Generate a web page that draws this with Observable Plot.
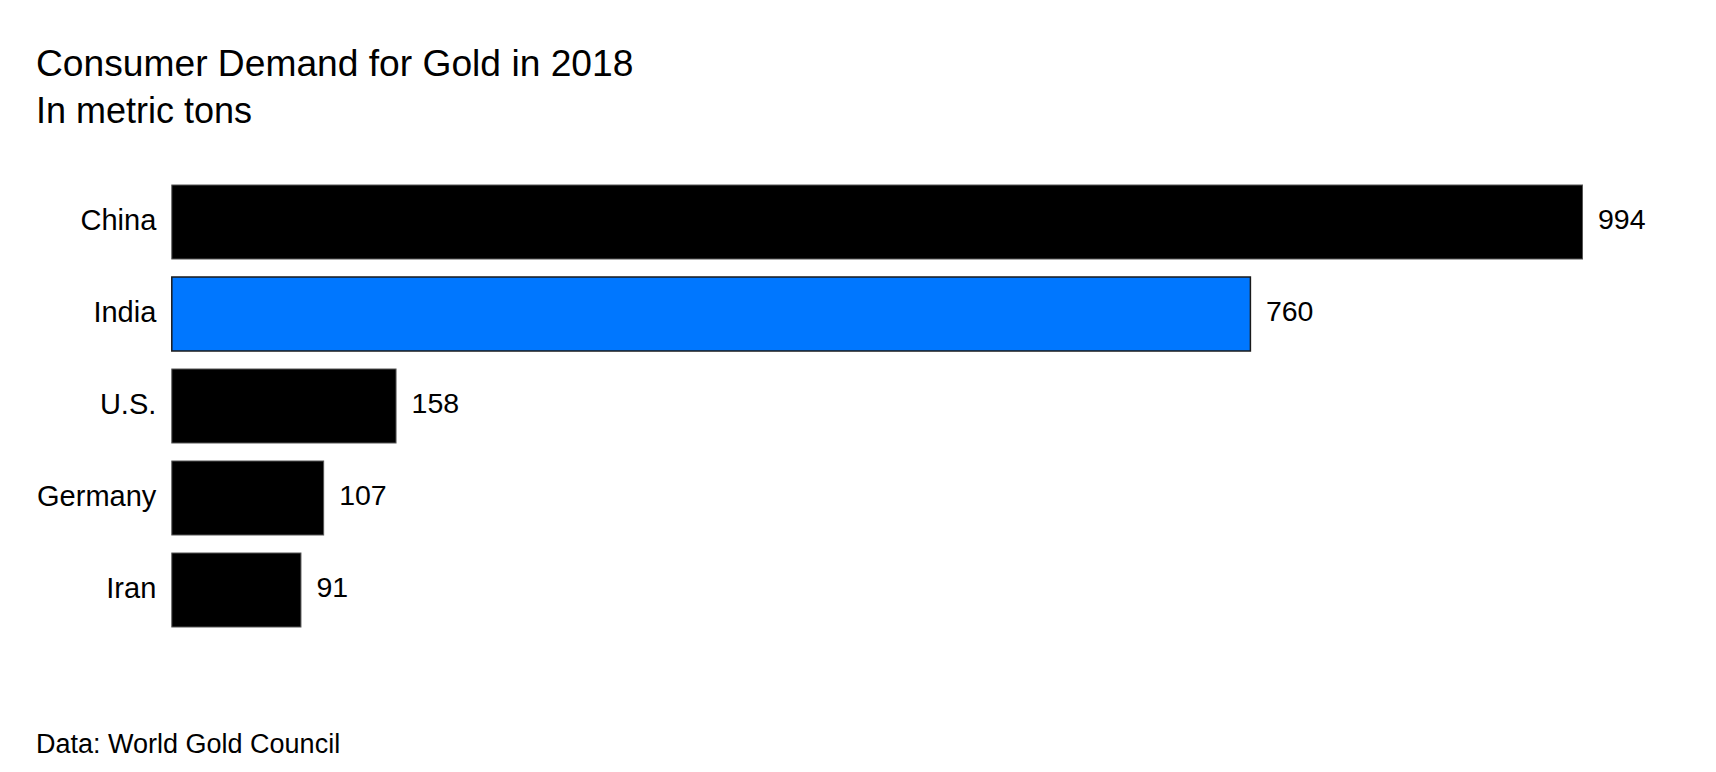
<!DOCTYPE html>
<html>
<head>
<meta charset="utf-8">
<script src="https://cdn.jsdelivr.net/npm/d3@7"></script>
<script src="https://cdn.jsdelivr.net/npm/@observablehq/plot@0.6"></script>
<style>
  html, body { margin: 0; padding: 0; background: #fff; }
  body { width: 1716px; height: 772px; overflow: hidden; font-family: "Liberation Sans", Arial, sans-serif; color: #000; }
  #head { padding: 40px 0 0 36px; }
  #head div { font-size: 36px; line-height: 47px; height: 47px; white-space: nowrap; }
  #head #title { font-size: 37.2px; }
  #chart svg { display: block; }
  #caption { padding-left: 36px; font-size: 27px; line-height: 30px; height: 30px; white-space: nowrap; }
</style>
</head>
<body>
<div id="head">
  <div id="title"></div>
  <div id="subtitle"></div>
</div>
<div id="chart"></div>
<div id="caption"></div>
<script>
const titleText = "Consumer Demand for Gold in 2018";
const subtitleText = "In metric tons";
const captionText = "Data: World Gold Council";

const countries = ["China", "India", "U.S.", "Germany", "Iran"];
const tons = [994, 760, 158, 107, 91];
const highlighted = ["India"];

document.getElementById("title").textContent = titleText;
document.getElementById("subtitle").textContent = subtitleText;
document.getElementById("caption").textContent = captionText;

const data = countries.map((c, i) => ({country: c, value: tons[i], hi: highlighted.includes(c)}));

const chart = Plot.plot({
  width: 1716,
  height: 595,
  marginTop: 31.6,
  marginBottom: 84,
  marginLeft: 171.8,
  marginRight: 133.5,
  style: {fontFamily: "Liberation Sans, Arial, sans-serif", fontSize: "28px", color: "#000", background: "#fff"},
  x: {domain: [0, d3.max(tons)], axis: null},
  y: {domain: countries, padding: 0.2, label: null, tickSize: 0, tickPadding: 16},
  marks: [
    Plot.barX(data, {
      y: "country",
      x: "value",
      fill: d => d.hi ? "#0077ff" : "#000",
      stroke: d => d.hi ? "#1a1a1a" : "#555",
      strokeWidth: d => d.hi ? 1.5 : 1
    }),
    Plot.text(data, {
      y: "country",
      x: "value",
      text: d => String(d.value),
      textAnchor: "start",
      dx: 15,
      dy: -3,
      fill: "#000",
      fontSize: 28.5
    }),
    Plot.axisY({tickSize: 0, tickPadding: 16, fontSize: 29, dy: -2, label: null})
  ]
});
document.getElementById("chart").appendChild(chart);
</script>
</body>
</html>
